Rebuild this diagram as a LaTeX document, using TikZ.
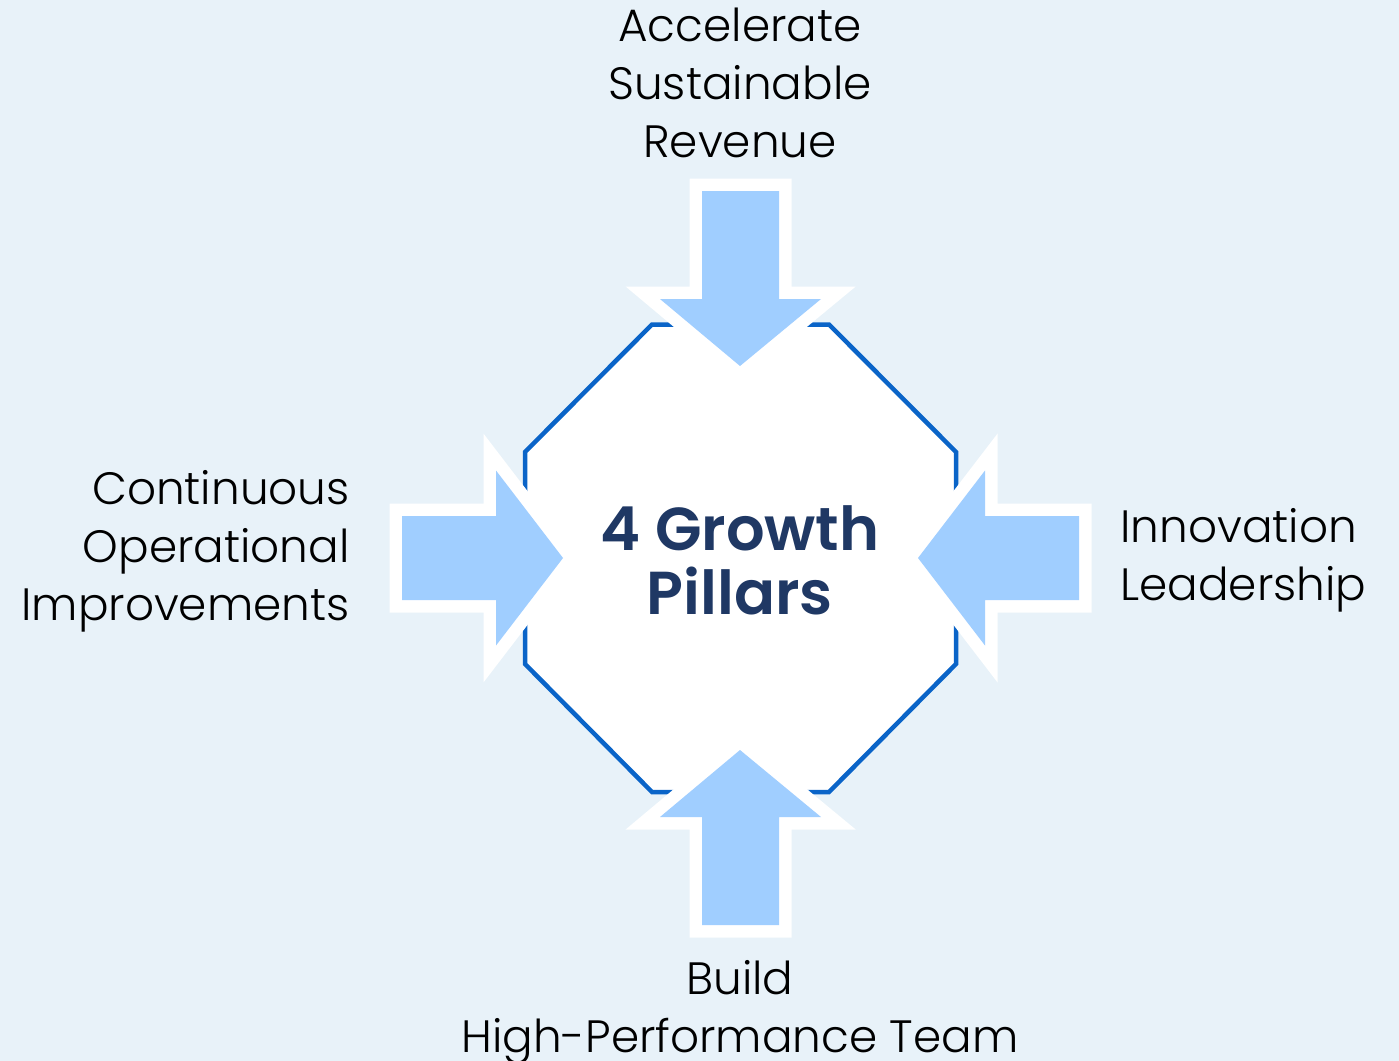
\documentclass[tikz,border=0pt]{standalone}
\usepackage{fontspec}
\setmainfont{Poppins}[UprightFont=* Light, BoldFont=* SemiBold]
\usetikzlibrary{positioning}

\definecolor{bgblue}{RGB}{232,242,249}
\definecolor{arrowfill}{RGB}{160,206,255}
\definecolor{octaline}{RGB}{10,100,200}
\definecolor{navy}{RGB}{31,56,100}

\begin{document}
\begin{tikzpicture}[
    x=0.02cm, y=-0.02cm,
    pillartext/.style={
        font=\fontsize{25.8}{32.8}\selectfont,
        inner sep=0pt
    },
    pillar/.style={
        fill=arrowfill,
        preaction={draw=white, line width=0.5cm, line join=miter}
    },
    core/.style={
        fill=white,
        draw=octaline,
        line width=0.09cm,
        line join=miter
    }
]
    % Background
    \fill[bgblue] (0,0) rectangle (1399,1061);
    \useasboundingbox (0,0) rectangle (1399,1061);

    % Central octagon
    \draw[core] (652,324.5) -- (829,324.5) -- (956,452) -- (956,664)
        -- (829,792) -- (652,792) -- (525,664) -- (525,452) -- cycle;
    % (base anchor sits on the last line)
    \node[font=\bfseries\fontsize{34.5}{36}\selectfont, text=navy, align=center, anchor=base, inner sep=0pt]
        (title) at (740,614) {4 Growth\\Pillars};

    % Arrows pointing in
    \path[pillar] (740,366) -- (821,299) -- (779,299) -- (779,191)
        -- (702,191) -- (702,299) -- (660,299) -- cycle;
    \path[pillar] (740,750) -- (821,817) -- (779,817) -- (779,925)
        -- (702,925) -- (702,817) -- (660,817) -- cycle;
    \path[pillar] (563,558) -- (496,470.5) -- (496,516) -- (402,516)
        -- (402,600) -- (496,600) -- (496,645.5) -- cycle;
    \path[pillar] (918,558) -- (985,470.5) -- (985,516) -- (1079,516)
        -- (1079,600) -- (985,600) -- (985,645.5) -- cycle;

    % Pillar labels
    \node[pillartext, align=center, anchor=base] (revenue) at (740,157)
        {Accelerate\\Sustainable\\Revenue};
    \node[pillartext, align=right, anchor=base east] (operations) at (350,620)
        {Continuous\\Operational\\Improvements};
    \node[pillartext, align=left, anchor=base west] (innovation) at (1120,600)
        {Innovation\\Leadership};
    \node[pillartext, align=center, anchor=base] (team) at (740,1052)
        {Build\\High-Performance Team};
\end{tikzpicture}
\end{document}
